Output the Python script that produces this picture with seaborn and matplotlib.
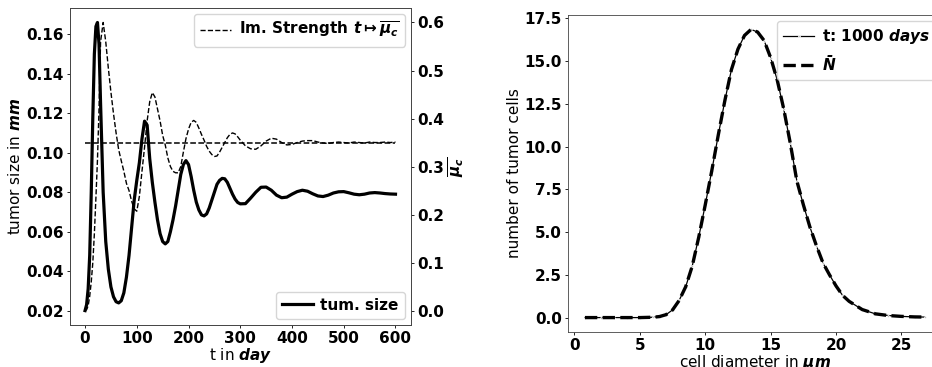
import matplotlib
matplotlib.use("Agg")
import matplotlib.pyplot as plt
import seaborn as sns

# --- left panel: tumor size and immune strength over time ---
days = [0, 3, 6, 9, 12, 15, 18, 21, 24, 27, 30, 35, 40, 45, 50, 55, 60, 65, 70, 75,
        80, 85, 90, 95, 100, 105, 110, 115, 120, 125, 130, 135, 140, 145, 150, 155,
        160, 165, 170, 175, 180, 185, 190, 195, 200, 205, 210, 215, 220, 225, 230,
        235, 240, 245, 250, 255, 260, 265, 270, 275, 280, 285, 290, 295, 300, 310,
        320, 330, 340, 350, 360, 370, 380, 390, 400, 410, 420, 430, 440, 450, 460,
        470, 480, 490, 500, 510, 520, 530, 540, 550, 560, 570, 580, 590, 600]

tumor_size = [0.020, 0.023, 0.031, 0.048, 0.080, 0.118, 0.150, 0.164, 0.166, 0.155,
              0.125, 0.080, 0.055, 0.041, 0.032, 0.027, 0.0245, 0.0239, 0.025, 0.029,
              0.037, 0.048, 0.062, 0.076, 0.086, 0.095, 0.107, 0.116, 0.114, 0.097,
              0.085, 0.075, 0.066, 0.059, 0.055, 0.0538, 0.055, 0.060, 0.066, 0.073,
              0.081, 0.089, 0.094, 0.096, 0.094, 0.088, 0.081, 0.075, 0.071, 0.0685,
              0.068, 0.069, 0.072, 0.076, 0.080, 0.084, 0.086, 0.087, 0.0868, 0.085,
              0.082, 0.079, 0.0765, 0.0748, 0.0741, 0.0742, 0.077, 0.080, 0.0825,
              0.0826, 0.081, 0.0785, 0.0772, 0.0775, 0.0790, 0.0803, 0.0810, 0.0805,
              0.0792, 0.0781, 0.0778, 0.0785, 0.0796, 0.0802, 0.0803, 0.0797, 0.0790,
              0.0787, 0.0790, 0.0796, 0.0798, 0.0796, 0.0793, 0.0791, 0.0790]

im_strength = [0.000, 0.002, 0.010, 0.030, 0.060, 0.100, 0.160, 0.235, 0.314, 0.420,
               0.560, 0.600, 0.560, 0.505, 0.455, 0.410, 0.370, 0.335, 0.312, 0.290,
               0.265, 0.250, 0.228, 0.212, 0.207, 0.238, 0.290, 0.340, 0.395, 0.435,
               0.454, 0.445, 0.420, 0.395, 0.365, 0.345, 0.318, 0.300, 0.290, 0.287,
               0.287, 0.300, 0.330, 0.358, 0.378, 0.392, 0.396, 0.392, 0.380, 0.367,
               0.355, 0.342, 0.332, 0.325, 0.321, 0.322, 0.330, 0.340, 0.350, 0.360,
               0.367, 0.370, 0.368, 0.362, 0.355, 0.343, 0.337, 0.336, 0.343, 0.353,
               0.359, 0.357, 0.350, 0.345, 0.346, 0.350, 0.353, 0.354, 0.354, 0.351,
               0.349, 0.348, 0.350, 0.351, 0.350, 0.349, 0.351, 0.350, 0.349, 0.351,
               0.350, 0.350, 0.351, 0.350, 0.351]

im_strength_mean = 0.35

# --- right panel: size distribution of tumor cells ---
diameter = [0.8, 2, 3, 4, 5, 6, 6.5, 7, 7.5, 8, 8.5, 9, 9.5, 10, 10.5, 11, 11.5, 12,
            12.5, 13, 13.5, 14, 14.5, 15, 15.5, 16, 16.5, 17, 17.5, 18, 18.5, 19, 19.5,
            20, 20.5, 21, 22, 23, 24, 25, 26, 26.8]
cells_t1000 = [0.0, 0.0, 0.0, 0.0, 0.0, 0.02, 0.06, 0.17, 0.45, 1.0, 1.8, 3.0, 4.7,
               6.6, 8.6, 10.7, 12.7, 14.5, 15.7, 16.5, 16.85, 16.7, 16.2, 15.2, 13.9,
               12.2, 10.2, 8.0, 6.6, 5.3, 4.2, 3.2, 2.5, 1.85, 1.3, 0.95, 0.47, 0.22,
               0.12, 0.07, 0.04, 0.03]
cells_mean = [0.0, 0.0, 0.0, 0.0, 0.0, 0.02, 0.06, 0.17, 0.45, 1.0, 1.8, 3.0, 4.7,
              6.6, 8.6, 10.7, 12.7, 14.5, 15.7, 16.5, 16.85, 16.7, 16.2, 15.2, 13.9,
              12.2, 10.2, 8.0, 6.6, 5.3, 4.2, 3.2, 2.5, 1.85, 1.3, 0.95, 0.47, 0.22,
              0.12, 0.07, 0.04, 0.03]

plt.rcParams['font.family'] = ['DejaVu Sans']
plt.rcParams['axes.linewidth'] = 0.6
plt.rcParams['axes.edgecolor'] = '#444444'
plt.rcParams['axes.labelpad'] = 2
for k in ('xtick', 'ytick'):
    plt.rcParams[k + '.major.size'] = 2.2
    plt.rcParams[k + '.major.width'] = 0.6
    plt.rcParams[k + '.major.pad'] = 2
    plt.rcParams[k + '.labelsize'] = 11
plt.rcParams['legend.handletextpad'] = 0.5


def bold_ticks(a):
    for lab in a.get_xticklabels() + a.get_yticklabels():
        lab.set_fontweight('bold')


fig = plt.figure(figsize=(9.32, 3.67), dpi=100)
ax = fig.add_axes([0.0746, 0.1144, 0.3664, 0.8636])
ax2 = ax.twinx()

sns.lineplot(x=days, y=tumor_size, ax=ax, color='black', lw=2.3, label='tum. size')
sns.lineplot(x=days, y=im_strength, ax=ax2, color='black', lw=1.0, linestyle='--',
             label=r'Im. Strength $\mathbfit{t \mapsto \overline{\mu_c}}$')
ax2.hlines(im_strength_mean, days[0], days[-1], color='black', lw=1.1, linestyles='--')

ax.set_xlabel(r't in $\mathbfit{day}$', fontsize=11, labelpad=0)
ax.set_ylabel(r'tumor size in $\mathbfit{mm}$', fontsize=11)
ax2.set_ylabel(r'$\mathbfit{\overline{\mu_c}}$', fontsize=11)
bold_ticks(ax)
bold_ticks(ax2)

ax.legend(loc='lower right', prop={'weight': 'bold', 'size': 11}, borderaxespad=0.4)
ax2.legend(loc='upper right', prop={'weight': 'bold', 'size': 11}, borderaxespad=0.4)

# right panel (runs off the right edge like the original)
bx = fig.add_axes([0.6094, 0.0954, 0.4013, 0.8636])
sns.lineplot(x=diameter, y=cells_t1000, ax=bx, color='black', lw=0.9, marker='o',
             markersize=1.2, label=r't: 1000 $\mathbfit{days}$')
sns.lineplot(x=diameter, y=cells_mean, ax=bx, color='black', lw=2.4, linestyle='--',
             label=r'$\mathbfit{\bar{N}}$')
bx.set_xlabel(r'cell diameter in $\mathbfit{\mu m}$', fontsize=11, labelpad=0)
bx.set_ylabel('number of tumor cells', fontsize=11)
bold_ticks(bx)
bx.legend(loc='upper right', prop={'weight': 'bold', 'size': 11}, borderaxespad=0.4)

fig.savefig('out.png', dpi=100)
